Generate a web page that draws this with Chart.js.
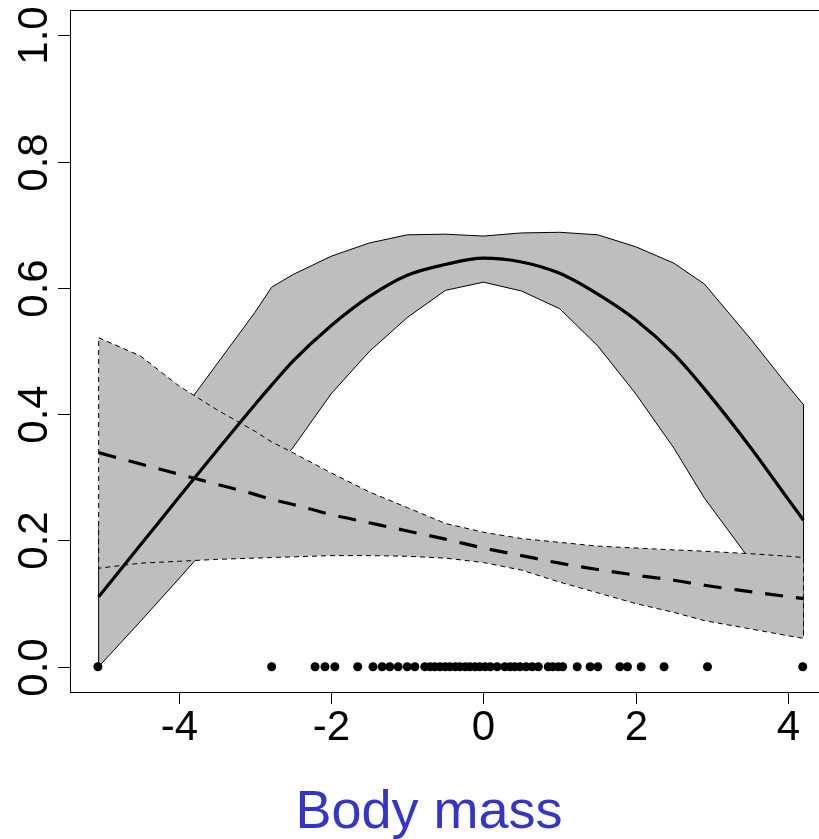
<!DOCTYPE html>
<html>
<head>
<meta charset="utf-8">
<script src="https://cdn.jsdelivr.net/npm/chart.js@4.4.1/dist/chart.umd.min.js"></script>
<style>
  html, body { margin: 0; padding: 0; background: #fff; overflow: hidden; }
  #wrap { width: 840px; height: 839px; }
</style>
</head>
<body>
<div id="wrap"><canvas id="c" width="840" height="839"></canvas></div>
<script>
// body mass grid and fitted curves
var xGrid = [-5.05, -4.5, -4, -3.5, -3, -2.78, -2.5, -2, -1.5, -1, -0.5, 0, 0.5, 1, 1.5, 2, 2.5, 2.9, 3.5, 4, 4.2];
var solidMean  = [0.111, 0.193, 0.268, 0.342, 0.415, 0.446, 0.484, 0.540, 0.586, 0.620, 0.637, 0.647, 0.641, 0.623, 0.590, 0.549, 0.495, 0.440, 0.348, 0.265, 0.232];
var solidUpper = [0.223, 0.315, 0.397, 0.479, 0.561, 0.601, 0.621, 0.650, 0.671, 0.684, 0.685, 0.682, 0.687, 0.688, 0.684, 0.665, 0.639, 0.606, 0.520, 0.444, 0.415];
var solidLower = [0.000, 0.072, 0.139, 0.207, 0.276, 0.309, 0.347, 0.432, 0.499, 0.553, 0.596, 0.609, 0.595, 0.567, 0.508, 0.432, 0.346, 0.267, 0.169, 0.084, 0.050];
var dashedMean  = [0.339, 0.321, 0.305, 0.289, 0.273, 0.265, 0.257, 0.241, 0.228, 0.215, 0.202, 0.188, 0.176, 0.164, 0.154, 0.145, 0.137, 0.129, 0.119, 0.111, 0.108];
var dashedUpper = [0.521, 0.492, 0.445, 0.407, 0.373, 0.356, 0.339, 0.307, 0.277, 0.252, 0.227, 0.213, 0.203, 0.197, 0.191, 0.188, 0.185, 0.183, 0.179, 0.175, 0.173];
var dashedLower = [0.156, 0.164, 0.167, 0.170, 0.172, 0.173, 0.174, 0.176, 0.176, 0.175, 0.172, 0.165, 0.153, 0.134, 0.117, 0.100, 0.086, 0.073, 0.060, 0.049, 0.045];

// observed body masses (rug at 0)
var rugX = [-5.06, -2.78, -2.21, -2.08, -1.95, -1.65, -1.45, -1.33, -1.23, -1.12, -1.00, -0.90, -0.77, -0.70, -0.64,
  -0.57, -0.50, -0.44, -0.37, -0.31, -0.24, -0.18, -0.11, -0.05, 0.02, 0.09, 0.18, 0.28, 0.35, 0.41, 0.48, 0.56,
  0.64, 0.72, 0.85, 0.91, 0.98, 1.04, 1.23, 1.40, 1.50, 1.79, 1.89, 2.07, 2.37, 2.94, 4.19];

var xTicks = [-4, -2, 0, 2, 4];
var yTicks = [0, 0.2, 0.4, 0.6, 0.8, 1.0];
var yTickLabels = ['0.0', '0.2', '0.4', '0.6', '0.8', '1.0'];
var xTitle = 'Body mass';

function pts(ys) {
  return xGrid.map(function(x, i) { return {x: x, y: ys[i]}; });
}
function band(up, lo) {
  var p = pts(up);
  var l = pts(lo).reverse();
  return p.concat(l).concat([p[0]]);
}

var FONT = '"Liberation Sans", Arial, Helvetica, sans-serif';

var rAxes = {
  id: 'rAxes',
  afterDraw: function(chart) {
    var ctx = chart.ctx, a = chart.chartArea;
    var xs = chart.scales.x, ys = chart.scales.y;
    ctx.save();
    ctx.strokeStyle = '#000';
    ctx.lineWidth = 1;
    ctx.strokeRect(a.left + 0.5, a.top + 0.5, a.right - a.left, a.bottom - a.top);
    ctx.fillStyle = '#000';
    ctx.font = '42px ' + FONT;
    ctx.textAlign = 'center';
    ctx.textBaseline = 'alphabetic';
    xTicks.forEach(function(t) {
      var px = Math.round(xs.getPixelForValue(t)) + 0.5;
      ctx.beginPath();
      ctx.moveTo(px, a.bottom);
      ctx.lineTo(px, a.bottom + 12);
      ctx.stroke();
      ctx.fillText(String(t), px, 740);
    });
    yTicks.forEach(function(t, i) {
      var py = Math.round(ys.getPixelForValue(t)) + 0.5;
      ctx.beginPath();
      ctx.moveTo(a.left, py);
      ctx.lineTo(a.left - 12, py);
      ctx.stroke();
      ctx.save();
      ctx.translate(47, py);
      ctx.rotate(-Math.PI / 2);
      ctx.fillText(yTickLabels[i], 0, 0);
      ctx.restore();
    });
    ctx.fillStyle = '#3535c8';
    ctx.font = '54px ' + FONT;
    ctx.fillText(xTitle, 429, 828);
    ctx.restore();
  }
};

new Chart(document.getElementById('c'), {
  type: 'scatter',
  data: {
    datasets: [
      {
        data: rugX.map(function(x) { return {x: x, y: 0}; }),
        showLine: false,
        pointRadius: 4.5,
        pointBackgroundColor: '#000',
        pointBorderWidth: 0,
        order: 0
      },
      {
        data: pts(solidMean),
        showLine: true,
        borderColor: '#000',
        borderWidth: 3.2,
        pointRadius: 0,
        cubicInterpolationMode: 'monotone',
        order: 1
      },
      {
        data: pts(dashedMean),
        showLine: true,
        borderColor: '#000',
        borderWidth: 3.2,
        borderDash: [18, 13],
        pointRadius: 0,
        cubicInterpolationMode: 'monotone',
        order: 2
      },
      {
        data: band(dashedUpper, dashedLower),
        showLine: true,
        borderColor: '#000',
        borderWidth: 1,
        borderDash: [5, 4],
        backgroundColor: '#bebebe',
        fill: 'shape',
        pointRadius: 0,
        order: 3
      },
      {
        data: band(solidUpper, solidLower),
        showLine: true,
        borderColor: '#000',
        borderWidth: 1,
        backgroundColor: '#bebebe',
        fill: 'shape',
        pointRadius: 0,
        order: 4
      }
    ]
  },
  options: {
    responsive: false,
    animation: false,
    devicePixelRatio: 1,
    layout: { padding: { left: 70, top: 10, right: 8, bottom: 147 } },
    plugins: { legend: { display: false }, tooltip: { enabled: false } },
    scales: {
      x: { type: 'linear', min: -5.426, max: 4.574, display: false },
      y: { type: 'linear', min: -0.04, max: 1.04, display: false }
    }
  },
  plugins: [rAxes]
});
</script>
</body>
</html>
